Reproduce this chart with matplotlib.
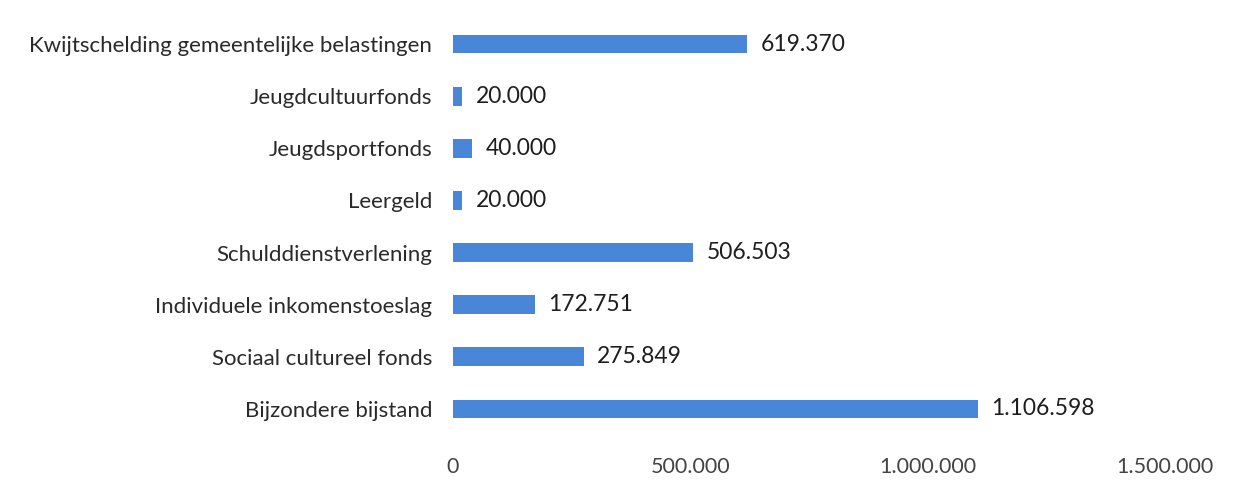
import matplotlib
matplotlib.use("Agg")
import matplotlib.pyplot as plt
from matplotlib.ticker import FuncFormatter

# data, bottom to top
categories = ['Bijzondere bijstand', 'Sociaal cultureel fonds', 'Individuele inkomenstoeslag',
              'Schulddienstverlening', 'Leergeld', 'Jeugdsportfonds', 'Jeugdcultuurfonds',
              'Kwijtschelding gemeentelijke belastingen']
values = [1106598, 275849, 172751, 506503, 20000, 40000, 20000, 619370]
xticks = [0, 500000, 1000000, 1500000]

plt.rcParams['font.family'] = ['Lato', 'DejaVu Sans']

def nl(v):
    return f"{v:,.0f}".replace(',', '.')

fig = plt.figure(figsize=(12.34, 4.92), dpi=100)
ax = fig.add_axes([453/1234, 1 - 435/492, (1165 - 453)/1234, 417/492])

ypos = range(len(categories))
ax.barh(ypos, values, height=0.36, color='#4a86d8')
for y, v in zip(ypos, values):
    ax.text(v + 28000, y, nl(v), va='center', ha='left', fontsize=16.5, color='#1e1e1e')

ax.set_xlim(0, 1500000)
ax.set_ylim(-0.5, len(categories) - 0.5)
ax.set_yticks(list(ypos))
ax.set_yticklabels(categories, fontsize=16, color='#2a2a2a')
ax.set_xticks(xticks)
ax.xaxis.set_major_formatter(FuncFormatter(lambda v, p: nl(v)))
ax.tick_params(axis='x', labelsize=15.5, colors='#444444', length=0, pad=16)
ax.tick_params(axis='y', length=0, pad=15)
for s in ax.spines.values():
    s.set_visible(False)

fig.savefig('out.png', dpi=100, facecolor='white')
